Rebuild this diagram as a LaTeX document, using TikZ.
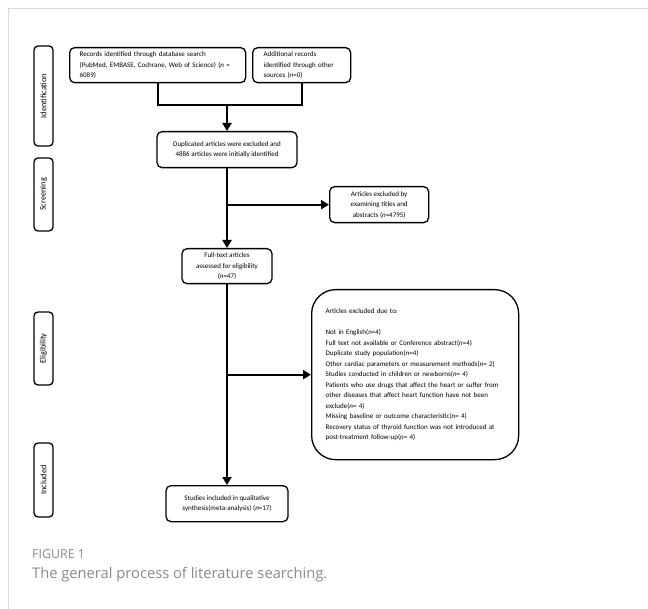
\documentclass[tikz,border=0pt]{standalone}
\usepackage{fontspec}
\setmainfont{Carlito}
\newfontfamily\capfont{Open Sans}
\usetikzlibrary{arrows.meta}
\definecolor{frameGray}{HTML}{DADADA}
\definecolor{captionGray}{HTML}{8A8A8A}

\begin{document}
\begin{tikzpicture}[x=1pt, y=-1pt,
  box/.style={draw, line width=1.3pt, rounded corners=5pt, inner sep=2pt, align=center,
    font=\fontsize{7}{10.5}\selectfont},
  phase/.style={draw, line width=1.3pt, rounded corners=4pt, rotate=90, inner sep=0pt,
    minimum height=19pt, font=\fontsize{8.3}{10}\selectfont},
  link/.style={line width=2.2pt},
  flow/.style={line width=2.2pt, -{Triangle[length=8pt,width=9pt]}}]
  \useasboundingbox (0,0) rectangle (648,609);
  % frame
  \draw[frameGray, line width=1pt] (8.5,609) -- (8.5,8.5) -- (648,8.5);
  % phases
  \node[phase, minimum width=100pt] (pid) at (43.5,96) {Identification};
  \node[phase, minimum width=73pt] (psc) at (43.5,194.5) {Screening};
  \node[phase, minimum width=73pt] (pel) at (43.5,348.5) {Eligibility};
  \node[phase, minimum width=74pt] (pin) at (43.5,480) {Included};
  % identification
  \node[box, anchor=north west, align=left, text width=156pt, inner xsep=10pt, minimum height=35pt]
    (rec) at (69,47) {Records identified through database search\\(PubMed, EMBASE, Cochrane, Web of Science) (\emph{n} =\\6089)};
  \node[box, anchor=north west, align=left, text width=76pt, inner xsep=11pt, minimum height=35pt]
    (add) at (252,47) {Additional records\\identified through other\\sources (\emph{n}=0)};
  \coordinate (join) at (227,105);
  \node[box, anchor=north, minimum width=140pt, minimum height=36pt] (dup) at (227,131)
    {Duplicated articles were excluded and\\4886 articles were initially identified};
  % screening
  \node[box, anchor=north west, minimum width=99pt, minimum height=36pt] (tit) at (329,186)
    {Articles excluded by\\examining titles and\\abstracts (\emph{n}=4795)};
  \node[box, anchor=north, minimum width=90pt, minimum height=35pt] (full) at (227,248)
    {Full-text articles\\assessed for eligibility\\(\emph{n}=47)};
  % eligibility
  \node[box, anchor=north west, align=left, text width=179pt, inner xsep=14pt, minimum height=170pt,
    rounded corners=24pt] (why) at (311,289)
    {Articles excluded due to:\\[10.5pt]
     Not in English(\emph{n}=4)\\
     Full text not available or Conference abstract(\emph{n}=4)\\
     Duplicate study population(\emph{n}=4)\\
     Other cardiac parameters or measurement methods(\emph{n}= 2)\\
     Studies conducted in children or newborns(\emph{n}= 4)\\
     Patients who use drugs that affect the heart or suffer from\\
     other diseases that affect heart function have not been\\
     exclude(\emph{n}= 4)\\
     Missing baseline or outcome characteristic(\emph{n}= 4)\\
     Recovery status of thyroid function was not introduced at\\
     post-treatment follow-up(\emph{n}= 4)};
  % included
  \node[box, anchor=north, minimum width=122pt, minimum height=36pt] (inc) at (227,485)
    {Studies included in qualitative\\synthesis(meta-analysis) (\emph{n}=17)};
  % connectors
  \draw[link] (rec.south) -- (rec.south |- join) -- (add.south |- join) -- (add.south);
  \draw[flow] (join) -- (dup.north);
  \draw[flow] (dup.south) -- (full.north);
  \draw[flow] (dup.south |- tit.west) -- (tit.west);
  \draw[flow] (full.south) -- (inc.north);
  \draw[flow] (full.south |- why.west) -- (why.west);
  % caption
  \node[anchor=base west, inner sep=0pt, text=captionGray, font=\capfont\fontsize{12.4}{14}\selectfont]
    (fig) at (32,558) {FIGURE 1};
  \node[anchor=base west, inner sep=0pt, text=captionGray, font=\capfont\fontsize{14.7}{17}\selectfont]
    (cap) at (32,578) {The general process of literature searching.};
\end{tikzpicture}
\end{document}
